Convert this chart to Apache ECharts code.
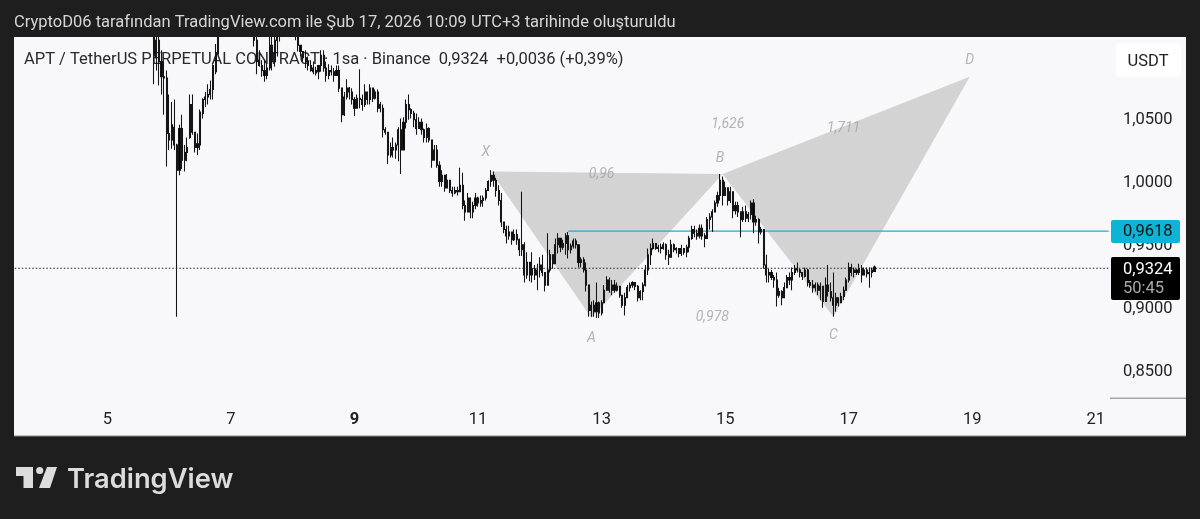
<!DOCTYPE html>
<html><head><meta charset="utf-8">
<style>html,body{margin:0;padding:0;background:#1e1e1e;}#c{width:1200px;height:519px;}</style>
<script src="https://cdn.jsdelivr.net/npm/echarts@6/dist/echarts.min.js"></script>
</head><body><div id="c"></div>
<script>
const firstBar = 54; // hourly index of the first candle, counted from Feb 3 12:00
const totalHours = 426;
const dayTicks = ['5','7','9','11','13','15','17','19','21'];
const priceTicks = [0.85,0.90,0.95,1.00,1.05];
const lastPrice = 0.9324, linePrice = 0.9618;
const highs = [
1.128,1.124,1.120,1.104,1.095,1.088,1.069,1.063,1.065,1.030,
1.045,1.053,1.029,1.035,1.069,1.069,1.038,1.038,1.057,1.066,
1.071,1.077,1.080,1.093,1.109,1.122,1.135,1.142,1.148,1.150,
1.145,1.148,1.152,1.150,1.144,1.140,1.142,1.136,1.132,1.128,
1.128,1.104,1.096,1.096,1.094,1.120,1.124,1.120,1.128,1.136,
1.140,1.145,1.146,1.140,1.134,1.128,1.124,1.108,1.103,1.104,
1.099,1.096,1.095,1.091,1.092,1.104,1.104,1.095,1.093,1.092,
1.090,1.092,1.092,1.073,1.071,1.081,1.075,1.074,1.067,1.069,
1.089,1.069,1.077,1.069,1.077,1.073,1.073,1.073,1.063,1.061,
1.043,1.038,1.031,1.035,1.031,1.043,1.050,1.051,1.065,1.069,
1.058,1.056,1.054,1.051,1.050,1.042,1.046,1.043,1.033,1.029,
1.029,1.016,1.009,1.003,1.006,.999,.996,.996,.996,1.011,
1.007,.985,.991,.987,.984,.991,.988,.989,.989,.995,
1.001,1.009,1.008,1.003,.997,.991,.966,.965,.965,.960,
.962,.962,.955,.992,.952,.944,.936,.944,.934,.935,
.940,.942,.928,.959,.946,.942,.955,.959,.955,.954,
.959,.960,.951,.955,.955,.950,.940,.940,.936,.918,
.905,.906,.920,.905,.906,.918,.925,.924,.922,.922,
.920,.917,.910,.912,.918,.920,.921,.920,.918,.914,
.920,.934,.947,.951,.955,.951,.950,.951,.952,.951,
.946,.954,.951,.948,.947,.950,.947,.950,.957,.965,
.965,.962,.966,.966,.959,.972,.975,.978,.985,.992,
1.006,1.004,1.000,.995,.996,.992,.984,.984,.976,.980,
.981,.976,.985,.986,.973,.971,.964,.962,.942,.931,
.930,.926,.928,.916,.914,.920,.926,.928,.932,.934,
.936,.931,.928,.932,.931,.922,.922,.920,.920,.920,
.917,.924,.934,.920,.928,.912,.908,.912,.917,.924,
.936,.935,.932,.931,.935,.934,.932,.932,.932,.932,.9335];
const lows = [
1.077,1.088,1.076,1.069,1.053,1.012,1.025,1.026,1.025,.893,
1.005,1.010,1.008,1.016,1.034,1.037,1.023,1.021,1.025,1.050,
1.059,1.061,1.065,1.065,1.085,1.107,1.118,1.124,1.130,1.132,
1.126,1.125,1.135,1.132,1.126,1.122,1.124,1.120,1.118,1.107,
1.085,1.091,1.083,1.079,1.081,1.088,1.088,1.091,1.099,1.111,
1.118,1.125,1.128,1.122,1.116,1.112,1.103,1.099,1.095,1.090,
1.088,1.087,1.085,1.084,1.081,1.087,1.087,1.079,1.081,1.084,
1.079,1.084,1.071,1.047,1.052,1.065,1.065,1.061,1.052,1.059,
1.058,1.056,1.059,1.061,1.061,1.063,1.065,1.055,1.055,1.035,
1.037,1.014,1.019,1.019,1.018,1.016,1.006,1.027,1.042,1.049,
1.050,1.043,1.037,1.043,1.037,1.031,1.031,1.031,1.011,1.019,
1.011,.996,.996,.992,.995,.991,.988,.990,.989,.992,
.978,.969,.977,.971,.971,.978,.980,.980,.980,.985,
.993,.996,.996,.988,.981,.964,.959,.951,.954,.950,
.953,.950,.941,.941,.920,.923,.921,.920,.922,.914,
.924,.925,.913,.920,.928,.931,.935,.943,.944,.946,
.942,.939,.943,.947,.947,.932,.932,.928,.913,.893,
.893,.893,.892,.892,.894,.904,.914,.912,.910,.912,
.913,.908,.900,.894,.908,.913,.916,.914,.905,.906,
.906,.917,.926,.934,.946,.946,.944,.943,.946,.938,
.934,.940,.944,.943,.940,.941,.942,.940,.944,.954,
.956,.954,.955,.954,.948,.955,.962,.960,.976,.980,
.985,.981,.989,.981,.983,.971,.974,.972,.956,.968,
.968,.968,.970,.959,.965,.951,.958,.931,.920,.920,
.922,.916,.901,.908,.902,.908,.916,.918,.914,.926,
.928,.924,.922,.924,.917,.916,.912,.913,.910,.906,
.900,.905,.909,.905,.893,.897,.901,.904,.906,.914,
.920,.925,.924,.926,.926,.920,.926,.924,.916,.924,.9288];
const opens = [
1.120,1.098,1.112,1.095,1.083,1.082,1.038,1.033,1.043,1.029,
1.009,1.042,1.017,1.023,1.035,1.061,1.039,1.027,1.029,1.054,
1.065,1.067,1.069,1.073,1.087,1.101,1.116,1.128,1.136,1.140,
1.135,1.130,1.142,1.146,1.138,1.130,1.134,1.128,1.124,1.120,
1.112,1.096,1.092,1.088,1.084,1.090,1.108,1.095,1.112,1.120,
1.124,1.130,1.138,1.132,1.126,1.120,1.116,1.108,1.103,1.098,
1.095,1.092,1.090,1.088,1.087,1.092,1.100,1.090,1.084,1.088,
1.087,1.084,1.088,1.074,1.053,1.067,1.074,1.071,1.065,1.058,
1.066,1.065,1.061,1.071,1.065,1.074,1.066,1.071,1.058,1.058,
1.041,1.039,1.021,1.027,1.025,1.029,1.041,1.025,1.047,1.061,
1.057,1.054,1.049,1.042,1.047,1.041,1.035,1.042,1.033,1.017,
1.025,1.013,1.000,1.005,.995,1.001,.993,.991,.993,.992,
.997,.981,.976,.987,.976,.981,.987,.983,.985,.987,
.993,1.000,1.005,1.001,.993,.985,.968,.962,.957,.960,
.954,.958,.954,.946,.950,.926,.936,.926,.931,.926,
.930,.934,.928,.918,.930,.942,.935,.950,.955,.948,
.951,.957,.946,.949,.953,.950,.936,.938,.930,.918,
.898,.902,.897,.904,.896,.904,.914,.922,.914,.918,
.914,.917,.910,.902,.908,.916,.918,.920,.917,.908,
.913,.918,.930,.942,.947,.951,.947,.948,.947,.950,
.942,.940,.950,.946,.947,.943,.947,.944,.948,.955,
.962,.959,.957,.963,.957,.955,.970,.972,.976,.983,
.989,1.001,.989,.995,.985,.992,.977,.981,.976,.970,
.976,.971,.974,.983,.968,.970,.960,.962,.934,.926,
.928,.924,.922,.910,.913,.908,.916,.924,.922,.928,
.931,.930,.928,.925,.930,.920,.918,.916,.918,.914,
.917,.905,.918,.913,.908,.902,.908,.904,.909,.914,
.922,.932,.928,.930,.928,.931,.926,.930,.927,.928,.9288];
const closes = [
1.100,1.112,1.095,1.083,1.082,1.038,1.033,1.045,1.029,1.009,
1.042,1.017,1.023,1.027,1.061,1.039,1.027,1.030,1.055,1.065,
1.067,1.069,1.073,1.092,1.101,1.116,1.128,1.136,1.140,1.135,
1.130,1.142,1.146,1.138,1.130,1.134,1.128,1.124,1.122,1.112,
1.095,1.092,1.088,1.084,1.090,1.108,1.095,1.112,1.120,1.124,
1.130,1.138,1.132,1.126,1.120,1.116,1.108,1.103,1.098,1.095,
1.092,1.088,1.087,1.086,1.092,1.100,1.090,1.084,1.088,1.087,
1.084,1.088,1.074,1.053,1.067,1.074,1.071,1.065,1.058,1.066,
1.065,1.061,1.071,1.065,1.074,1.066,1.071,1.058,1.061,1.041,
1.039,1.021,1.027,1.025,1.029,1.041,1.025,1.047,1.061,1.057,
1.054,1.049,1.042,1.047,1.041,1.035,1.042,1.033,1.017,1.025,
1.013,1.000,1.005,.995,1.001,.993,.991,.993,.992,.997,
.981,.976,.987,.976,.981,.987,.983,.985,.987,.993,
1.000,1.005,1.001,.993,.985,.968,.962,.957,.960,.954,
.958,.954,.946,.950,.926,.936,.926,.931,.926,.930,
.934,.928,.918,.930,.942,.935,.950,.955,.948,.951,
.957,.946,.949,.953,.950,.936,.938,.930,.918,.898,
.902,.897,.904,.896,.904,.914,.922,.914,.918,.914,
.917,.910,.902,.908,.916,.918,.920,.917,.908,.913,
.918,.930,.942,.947,.951,.947,.948,.947,.950,.942,
.940,.950,.946,.947,.943,.947,.944,.948,.955,.962,
.959,.957,.963,.957,.955,.970,.972,.976,.983,.989,
1.001,.989,.995,.985,.992,.977,.981,.976,.970,.976,
.971,.974,.983,.968,.970,.960,.962,.934,.926,.928,
.924,.922,.910,.913,.908,.916,.924,.922,.928,.931,
.930,.928,.925,.930,.920,.918,.916,.918,.914,.917,
.905,.918,.913,.908,.902,.908,.904,.909,.914,.922,
.932,.928,.930,.928,.931,.926,.930,.927,.928,.930,.9324];
// Harmonic pattern X-A-B and B-C-D: [hour index, price]
const patternX = [185, 1.008], patternA = [223.5, 0.892], patternB = [275, 1.006], patternC = [318, 0.893], patternD = [370.5, 1.083];
const patternLabels = [['X',183,1.023],['A',224,0.876],['B',274,1.018],['C',318,0.878],['D',371,1.096],
  ['0,96',228,1.006],['1,626',277,1.045],['1,711',322,1.042],['0,978',271,0.892]];

const categories = Array.from({length: totalHours}, (_, i) => String(i));
const candleRows = Array.from({length: firstBar}, () => ['-','-','-','-'])
  .concat(closes.map((c, i) => [opens[i], c, lows[i], highs[i]]));
const comma = (v, d) => v.toFixed(d).replace('.', ',');
const F = 'Roboto, sans-serif';
const chart = echarts.init(document.getElementById('c'), null, {renderer: 'canvas'});
const yMin = 0.8286, yMax = 1.1145;
chart.setOption({
  animation: false,
  backgroundColor: '#1e1e1e',
  grid: [
    {left: 13.5, top: 37, width: 1096.5, height: 361},
    {left: 13.5, top: 38.3, width: 1096.5, height: 361}
  ],
  xAxis: [{
    type: 'category', data: categories, boundaryGap: true,
    axisLine: {show: false}, axisTick: {show: false}, splitLine: {show: false},
    axisLabel: {
      interval: i => (i - 36) % 48 === 0 && i >= 36,
      margin: 13, color: '#222', fontFamily: F, fontSize: 16.5,
      formatter: (v) => { const t = dayTicks[(+v - 36) / 48]; return t === '9' ? '{b|9}' : t; },
      rich: {b: {fontWeight: 'bold', fontFamily: F, fontSize: 16.5, color: '#222'}}
    }
  }, {type: 'category', gridIndex: 1, data: categories, show: false}],
  yAxis: [
    {type: 'value', min: yMin, max: yMax, show: false, splitLine: {show: false}},
    {type: 'value', gridIndex: 1, position: 'right', min: yMin, max: yMax,
     axisLine: {show: false}, axisTick: {show: false}, splitLine: {show: false},
     axisLabel: {customValues: priceTicks, margin: 13, color: '#222', fontFamily: F, fontSize: 16.5,
       formatter: v => comma(v, 4)}}
  ],
  series: [
    {type: 'custom', z: 1, silent: true, clip: false,
     encode: {x: [0, 2, 4], y: [1, 3, 5]},
     data: [[...patternX, ...patternA, ...patternB], [...patternB, ...patternC, ...patternD]],
     renderItem: (p, api) => ({
       type: 'polygon',
       shape: {points: [0, 2, 4].map(k => api.coord([api.value(k), api.value(k + 1)]))},
       style: {fill: '#d4d3d4'}
     })},
    {type: 'line', z: 2, silent: true, symbol: 'none', xAxisIndex: 1, yAxisIndex: 1,
     data: [[215, linePrice], [totalHours - 1, linePrice]],
     lineStyle: {color: '#14b2cf', width: 1.3}},
    {type: 'line', z: 2, silent: true, symbol: 'none', xAxisIndex: 1, yAxisIndex: 1,
     data: [[0, lastPrice], [totalHours - 1, lastPrice]],
     lineStyle: {color: '#222', width: 1.2, type: [1.5, 2]}},
    {type: 'candlestick', z: 3, silent: true, barWidth: 1.6, clip: true, data: candleRows,
     itemStyle: {color: '#000', color0: '#000', borderColor: '#151515', borderColor0: '#151515', borderWidth: 1.05}},
    {type: 'scatter', z: 4, silent: true, symbolSize: 1, itemStyle: {color: 'transparent'},
     data: patternLabels.map(r => ({name: r[0], value: [r[1], r[2]]})),
     label: {show: true, position: 'inside', formatter: '{b}', color: '#a2a2a2', fontStyle: 'italic', fontFamily: F, fontSize: 14}}
  ],
  graphic: [
    {type: 'rect', z: -10, shape: {x: 14, y: 37, width: 1172, height: 399}, style: {fill: '#f8f7f9'}},
    {type: 'rect', z: -9, shape: {x: 14, y: 435.4, width: 1172, height: 1}, style: {fill: '#8a8a8a'}},
    {type: 'text', z: 1, x: 24, y: 60, style: {text: 'APT / TetherUS PERPETUAL CONTRACT · 1sa · Binance  0,9324  +0,0036 (+0,39%)', fill: '#2a2a2a', font: '16.5px ' + F, textVerticalAlign: 'middle'}},
    {type: 'rect', z: 50, shape: {x: 0, y: 0, width: 1200, height: 37}, style: {fill: '#1e1e1e'}},
    {type: 'text', z: 51, x: 14, y: 22.5, style: {text: 'CryptoD06 tarafından TradingView.com ile Şub 17, 2026 10:09 UTC+3 tarihinde oluşturuldu', fill: '#d6d6d6', font: '16.5px ' + F, textVerticalAlign: 'middle'}},
    {type: 'rect', z: 100, shape: {x: 1116, y: 43, width: 65, height: 34, r: 4}, style: {fill: '#ffffff'}},
    {type: 'text', z: 101, x: 1148, y: 62, style: {text: 'USDT', fill: '#222', font: '16.5px ' + F, textAlign: 'center', textVerticalAlign: 'middle'}},
    {type: 'rect', z: 100, shape: {x: 1111, y: 220, width: 69, height: 23, r: 2}, style: {fill: '#0db4d6'}},
    {type: 'text', z: 101, x: 1123, y: 232, style: {text: comma(linePrice, 4), fill: '#111', font: '16.5px ' + F, textVerticalAlign: 'middle'}},
    {type: 'rect', z: 100, shape: {x: 1111, y: 257, width: 69, height: 43, r: 2}, style: {fill: '#000'}},
    {type: 'text', z: 101, x: 1123, y: 270, style: {text: comma(lastPrice, 4), fill: '#fff', font: '16.5px ' + F, textVerticalAlign: 'middle'}},
    {type: 'text', z: 101, x: 1123, y: 289, style: {text: '50:45', fill: '#a9a9a9', font: '16.5px ' + F, textVerticalAlign: 'middle'}},
    {type: 'rect', z: 5, shape: {x: 1110, y: 397.5, width: 76, height: 1.5}, style: {fill: '#a8a8a8'}},
    {type: 'polygon', z: 5, shape: {points: [[16,467],[33,467],[33,488],[23.5,488],[23.5,476],[16,476]]}, style: {fill: '#dcdcdc'}},
    {type: 'circle', z: 5, shape: {cx: 39.7, cy: 470.5, r: 3.6}, style: {fill: '#dcdcdc'}},
    {type: 'polygon', z: 5, shape: {points: [[47,467],[57,467],[50,488],[39,488]]}, style: {fill: '#dcdcdc'}},
    {type: 'text', z: 5, x: 67, y: 480, style: {text: 'TradingView', fill: '#dcdcdc', font: '600 27.3px Inter, ' + F, textVerticalAlign: 'middle'}}
  ]
});
</script></body></html>
